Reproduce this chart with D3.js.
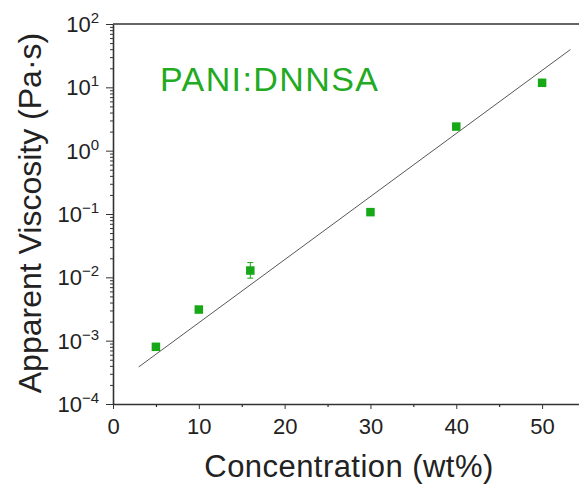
<!DOCTYPE html>
<html>
<head>
<meta charset="utf-8">
<script src="https://cdn.jsdelivr.net/npm/d3@7"></script>
<style>
  body { margin: 0; background: #fff; }
  text { font-family: "Liberation Sans", Arial, sans-serif; }
</style>
</head>
<body>
<div id="chart"></div>
<script>
// data
var concentration = [5, 10, 16, 30, 40, 50];
var viscosity = [8.0e-4, 3.1e-3, 0.0128, 0.107, 2.4, 11.8];
var errLow = [null, null, 0.0097, null, null, null];
var errHigh = [null, null, 0.0171, null, null, null];
// fitted line end points
var fitX = [3, 53.3];
var fitY = [3.85e-4, 39.5];

var xMajor = [0, 10, 20, 30, 40, 50];
var xMinor = [5, 15, 25, 35, 45];
var yExponents = [-4, -3, -2, -1, 0, 1, 2];

var green = "#17a817";

var W = 579, H = 487;
var margin = {top: 24, left: 113, bottom: 83};

var svg = d3.select("#chart")
    .append("svg")
    .attr("width", W)
    .attr("height", H);

var x = d3.scaleLinear()
    .domain([0, 54.3])
    .range([margin.left, W]);

var y = d3.scaleLog()
    .domain([1e-4, 1e2])
    .range([H - margin.bottom, margin.top]);

// y minor ticks 2..9 per decade
var yMinor = [];
yExponents.slice(0, -1).forEach(e => {
    for (let m = 2; m <= 9; m++) yMinor.push(m * Math.pow(10, e));
});

// x axis
svg.append("g")
    .attr("transform", `translate(0,${y(1e-4)})`)
    .call(d3.axisBottom(x).tickValues(xMinor).tickSize(3).tickFormat("").tickSizeOuter(0))
    .call(g => g.select(".domain").remove());
svg.append("g")
    .attr("class", "xaxis")
    .attr("transform", `translate(0,${y(1e-4)})`)
    .call(d3.axisBottom(x).tickValues(xMajor).tickSize(5).tickPadding(9).tickSizeOuter(0))
    .call(g => g.selectAll("text").style("font-size", "22px").attr("fill", "#222"))
    .call(g => g.selectAll("line").attr("stroke", "#333"))
    .call(g => g.select(".domain").attr("stroke", "#333").attr("stroke-width", 1.6));

// y axis
svg.append("g")
    .attr("transform", `translate(${margin.left},0)`)
    .call(d3.axisLeft(y).tickValues(yMinor).tickSize(3).tickFormat("").tickSizeOuter(0))
    .call(g => g.select(".domain").remove())
    .call(g => g.selectAll("line").attr("stroke", "#333"));
svg.append("g")
    .attr("transform", `translate(${margin.left},0)`)
    .call(d3.axisLeft(y).tickValues(yExponents.map(e => Math.pow(10, e))).tickSize(7).tickFormat("").tickSizeOuter(0))
    .call(g => g.selectAll("line").attr("stroke", "#333"))
    .call(g => g.select(".domain").attr("stroke", "#333").attr("stroke-width", 1.6));

// top frame line
svg.append("line")
    .attr("x1", x(0)).attr("x2", W)
    .attr("y1", y(1e2)).attr("y2", y(1e2))
    .attr("stroke", "#333").attr("stroke-width", 1.6);

// y tick labels as 10^n
var ylab = svg.append("g").selectAll("text")
    .data(yExponents)
    .enter()
    .append("text")
    .attr("x", 99)
    .attr("y", d => y(Math.pow(10, d)) + 8)
    .attr("text-anchor", "end")
    .attr("fill", "#222")
    .style("font-size", "22px");
ylab.append("tspan").text("10");
ylab.append("tspan")
    .attr("dy", -9)
    .style("font-size", "15px")
    .text(d => d < 0 ? "\u2212" + (-d) : d);

// fit line
svg.append("path")
    .datum(fitX.map((d, i) => [d, fitY[i]]))
    .attr("fill", "none")
    .attr("stroke", "#444")
    .attr("stroke-width", 0.9)
    .attr("d", d3.line().x(d => x(d[0])).y(d => y(d[1])));

// error bars
var pts = concentration.map((d, i) => ({x: d, y: viscosity[i], lo: errLow[i], hi: errHigh[i]}));
var eb = svg.append("g").selectAll("g")
    .data(pts.filter(d => d.lo !== null))
    .enter().append("g")
    .attr("stroke", green)
    .attr("stroke-width", 1);
eb.append("line")
    .attr("x1", d => x(d.x)).attr("x2", d => x(d.x))
    .attr("y1", d => y(d.lo)).attr("y2", d => y(d.hi));
eb.append("line")
    .attr("x1", d => x(d.x) - 3).attr("x2", d => x(d.x) + 3)
    .attr("y1", d => y(d.lo)).attr("y2", d => y(d.lo));
eb.append("line")
    .attr("x1", d => x(d.x) - 3).attr("x2", d => x(d.x) + 3)
    .attr("y1", d => y(d.hi)).attr("y2", d => y(d.hi));

// markers
var s = 8.5;
svg.append("g").selectAll("rect")
    .data(pts)
    .enter().append("rect")
    .attr("x", d => x(d.x) - s / 2)
    .attr("y", d => y(d.y) - s / 2)
    .attr("width", s)
    .attr("height", s)
    .attr("fill", green);

// sample label
svg.append("text")
    .attr("x", 160)
    .attr("y", 91)
    .attr("fill", "#22aa22")
    .style("font-size", "34px")
    .style("letter-spacing", "1.4px")
    .text("PANI:DNNSA");

// axis titles
svg.append("text")
    .attr("x", 349)
    .attr("y", 477)
    .attr("text-anchor", "middle")
    .attr("fill", "#222")
    .style("font-size", "31px")
    .style("letter-spacing", "0.45px")
    .text("Concentration (wt%)");

svg.append("text")
    .attr("transform", "translate(41,213) rotate(-90)")
    .attr("text-anchor", "middle")
    .attr("fill", "#222")
    .style("font-size", "32px")
    .text("Apparent Viscosity (Pa\u00b7s)");
</script>
</body>
</html>
